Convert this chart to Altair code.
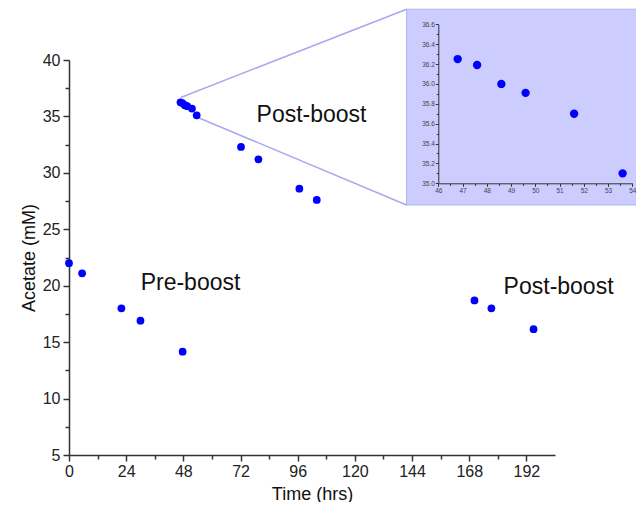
import altair as alt
import pandas as pd

# ---- data ----
pre_time = [0, 5.5, 22, 30, 47.7]
pre_acetate = [22.0, 21.1, 18.0, 16.9, 14.15]

post1_time = [46.8, 47.6, 48.6, 49.6, 51.6, 53.6, 72.2, 79.5, 96.7, 104.0]
post1_acetate = [36.25, 36.19, 36.0, 35.91, 35.70, 35.10, 32.3, 31.2, 28.6, 27.6]

post2_time = [170.2, 177.3, 195.0]
post2_acetate = [18.7, 18.0, 16.15]

inset_time = [46.8, 47.6, 48.6, 49.6, 51.6, 53.6]
inset_acetate = [36.25, 36.19, 36.0, 35.91, 35.70, 35.10]

label_text = ["Pre-boost", "Post-boost", "Post-boost"]
label_time = [51.0, 101.8, 205.5]
label_acetate = [20.24, 35.13, 19.89]

# inset frame and connector lines (in main-axis units)
box_x = [141.7]
box_x2 = [245.0]
box_y = [27.15]
box_y2 = [44.5]
conn_x = [46.9, 54.6]
conn_y = [36.68, 34.86]
conn_x2 = [141.7, 141.7]
conn_y2 = [44.5, 27.15]

x_ticks = list(range(0, 193, 12))
y_ticks = [5 + 2.5 * i for i in range(15)]
inset_x_ticks = [46 + 0.5 * i for i in range(17)]
inset_y_ticks = [round(35 + 0.1 * i, 1) for i in range(17)]

FONT = "Liberation Sans"
W, H = 486, 395

df_points = pd.DataFrame({
    "t": pre_time + post1_time + post2_time,
    "a": pre_acetate + post1_acetate + post2_acetate,
})
df_labels = pd.DataFrame({"t": label_time, "a": label_acetate, "txt": label_text})
df_box = pd.DataFrame({"x": box_x, "x2": box_x2, "y": box_y, "y2": box_y2})
df_conn = pd.DataFrame({"x": conn_x, "y": conn_y, "x2": conn_x2, "y2": conn_y2})
df_inset = pd.DataFrame({"t": inset_time, "a": inset_acetate})

xs = alt.Scale(domain=[0, 204], nice=False, zero=False)
ys = alt.Scale(domain=[5, 40], nice=False, zero=False)

x_axis = alt.Axis(
    values=x_ticks,
    labelExpr="datum.value % 24 === 0 ? datum.label : ''",
    tickSize={"condition": {"test": "datum.value % 24 === 0", "value": 6}, "value": 4},
    grid=False, labelOverlap=False, labelFlush=False,
    domainColor="#333333", tickColor="#333333", domainWidth=1.5, tickWidth=1.5,
    labelFont=FONT, titleFont=FONT, labelFontSize=16, titleFontSize=18,
    labelColor="#222222", titleColor="#111111", titleFontWeight="normal",
    labelPadding=2, titlePadding=6, title="Time (hrs)",
)
y_axis = alt.Axis(
    values=y_ticks,
    labelExpr="datum.value % 5 === 0 ? datum.label : ''",
    tickSize={"condition": {"test": "datum.value % 5 === 0", "value": 6}, "value": 4},
    grid=False, labelOverlap=False, labelFlush=False,
    domainColor="#333333", tickColor="#333333", domainWidth=1.5, tickWidth=1.5,
    labelFont=FONT, titleFont=FONT, labelFontSize=16, titleFontSize=18,
    labelColor="#222222", titleColor="#111111", titleFontWeight="normal",
    labelPadding=3, titlePadding=4, title="Acetate (mM)",
)

box = alt.Chart(df_box).mark_rect(fill="#ccccff", stroke="#b4b4f0", strokeWidth=1).encode(
    x=alt.X("x:Q", scale=xs, axis=x_axis),
    x2="x2:Q",
    y=alt.Y("y:Q", scale=ys, axis=y_axis),
    y2="y2:Q",
)
conn = alt.Chart(df_conn).mark_rule(color="#a8a8f0", strokeWidth=1.5).encode(
    x=alt.X("x:Q", scale=xs, axis=x_axis),
    x2="x2:Q",
    y=alt.Y("y:Q", scale=ys, axis=y_axis),
    y2="y2:Q",
)
pts = alt.Chart(df_points).mark_circle(color="#0000ff", opacity=1, size=60).encode(
    x=alt.X("t:Q", scale=xs, axis=x_axis),
    y=alt.Y("a:Q", scale=ys, axis=y_axis),
)
labels = alt.Chart(df_labels).mark_text(
    font=FONT, fontSize=23, color="#111111", align="center", baseline="middle"
).encode(
    x=alt.X("t:Q", scale=xs, axis=x_axis),
    y=alt.Y("a:Q", scale=ys, axis=y_axis),
    text="txt:N",
)

main = alt.layer(box, conn, pts, labels)

# inset placed through its own scale ranges (pixels inside the main plot area)
ixs = alt.Scale(domain=[46, 54], range=[369.3, 563.3], nice=False, zero=False)
iys = alt.Scale(domain=[35.0, 36.6], range=[123.3, -35.7], nice=False, zero=False)

ix_axis = alt.Axis(
    orient="bottom", offset=123.3 - H, zindex=2,
    values=inset_x_ticks,
    labelExpr="datum.value % 1 === 0 ? format(datum.value, 'd') : ''",
    tickSize={"condition": {"test": "datum.value % 1 === 0", "value": 3}, "value": 2},
    grid=False, labelOverlap=False, labelFlush=False,
    domainColor="#333333", tickColor="#333333", domainWidth=1, tickWidth=1,
    labelFont=FONT, labelFontSize=6.5, labelColor="#444444", labelPadding=1,
    title=None,
)
iy_axis = alt.Axis(
    orient="left", offset=-369.3, zindex=2,
    values=inset_y_ticks,
    labelExpr="round(datum.value * 10) % 2 === 0 ? format(datum.value, '.1f') : ''",
    tickSize={"condition": {"test": "round(datum.value * 10) % 2 === 0", "value": 3}, "value": 2},
    grid=False, labelOverlap=False, labelFlush=False,
    domainColor="#333333", tickColor="#333333", domainWidth=1, tickWidth=1,
    labelFont=FONT, labelFontSize=6.5, labelColor="#444444", labelPadding=1,
    title=None,
)

inset = alt.Chart(df_inset).mark_circle(color="#0000ff", opacity=1, size=70).encode(
    x=alt.X("t:Q", scale=ixs, axis=ix_axis),
    y=alt.Y("a:Q", scale=iys, axis=iy_axis),
)

chart = alt.layer(main, inset).resolve_scale(
    x="independent", y="independent"
).properties(
    width=W, height=H,
    background="white",
    autosize=alt.AutoSizeParams(type="none"),
    padding={"left": 61, "top": 52, "right": 81, "bottom": 47},
).configure_view(stroke=None)

chart.save("out.html", embed_options={"renderer": "svg", "actions": False})
